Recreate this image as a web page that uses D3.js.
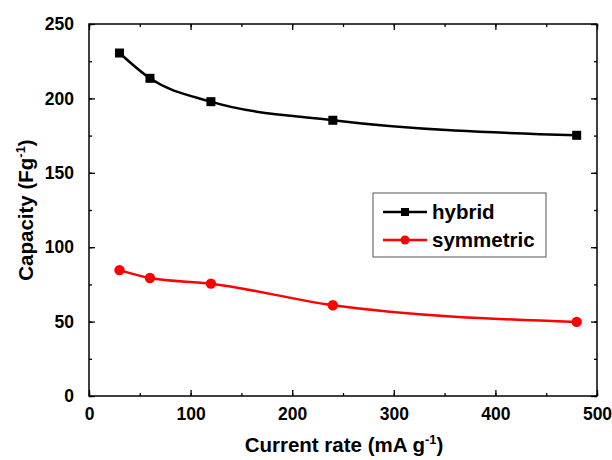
<!DOCTYPE html>
<html>
<head>
<meta charset="utf-8">
<script src="https://cdn.jsdelivr.net/npm/d3@7"></script>
<style>
body { margin: 0; background: #fff; }
text { font-family: "Liberation Sans", Arial, sans-serif; font-weight: bold; }
</style>
</head>
<body>
<div id="figure-div"></div>
<script>
var rates = [30, 60, 120, 240, 480];
var hybrid = [230.5, 213.5, 197.8, 185.3, 175.2];
var symmetric = [84.6, 79.3, 75.5, 61.0, 49.8];
var xTicks = [0, 100, 200, 300, 400, 500];
var yTicks = [0, 50, 100, 150, 200, 250];

var w = 612;
var h = 460;
var pLeft = 89, pRight = 597, pTop = 24, pBottom = 396;

var svg = d3.select("#figure-div").append("svg")
	.attr("width", w)
	.attr("height", h);

var xScale = d3.scaleLinear().domain([0, 500]).range([pLeft, pRight]);
var yScale = d3.scaleLinear().domain([0, 250]).range([pBottom, pTop]);

// minor + major ticks, all pointing inward
function addAxis(axis, tr) {
	var g = svg.append("g").attr("transform", tr).call(axis);
	g.select(".domain").remove();
	g.selectAll("line").attr("stroke", "#000").attr("stroke-width", 1.3);
	g.selectAll("text").style("font-size", "17.5px").attr("fill", "#000");
	return g;
}
var xMinor = d3.range(0, 501, 50), yMinor = d3.range(0, 251, 25);

addAxis(d3.axisBottom(xScale).tickValues(xMinor).tickSize(-3).tickFormat(""), "translate(0," + pBottom + ")");
addAxis(d3.axisBottom(xScale).tickValues(xTicks).tickSize(-6).tickPadding(12).tickFormat(d3.format("d")), "translate(0," + pBottom + ")");
addAxis(d3.axisTop(xScale).tickValues(xMinor).tickSize(-3).tickFormat(""), "translate(0," + pTop + ")");
addAxis(d3.axisTop(xScale).tickValues(xTicks).tickSize(-6).tickFormat(""), "translate(0," + pTop + ")");
addAxis(d3.axisLeft(yScale).tickValues(yMinor).tickSize(-3).tickFormat(""), "translate(" + pLeft + ",0)");
addAxis(d3.axisLeft(yScale).tickValues(yTicks).tickSize(-6).tickPadding(15).tickFormat(d3.format("d")), "translate(" + pLeft + ",0)");
addAxis(d3.axisRight(yScale).tickValues(yMinor).tickSize(-3).tickFormat(""), "translate(" + pRight + ",0)");
addAxis(d3.axisRight(yScale).tickValues(yTicks).tickSize(-6).tickFormat(""), "translate(" + pRight + ",0)");

svg.append("rect")
	.attr("x", pLeft).attr("y", pTop)
	.attr("width", pRight - pLeft).attr("height", pBottom - pTop)
	.attr("fill", "none").attr("stroke", "#000").attr("stroke-width", 1.5);

var line = d3.line()
	.x(function(d) { return xScale(d[0]); })
	.y(function(d) { return yScale(d[1]); })
	.curve(d3.curveMonotoneX);

var hybData = rates.map(function(r, i) { return [r, hybrid[i]]; });
var symData = rates.map(function(r, i) { return [r, symmetric[i]]; });

svg.append("path").datum(hybData).attr("d", line)
	.attr("fill", "none").attr("stroke", "#000").attr("stroke-width", 2.5);
svg.append("path").datum(symData).attr("d", line)
	.attr("fill", "none").attr("stroke", "#ff0000").attr("stroke-width", 2.5);

svg.selectAll("rect.hyb").data(hybData).enter().append("rect")
	.attr("class", "hyb")
	.attr("x", function(d) { return xScale(d[0]) - 4.5; })
	.attr("y", function(d) { return yScale(d[1]) - 4.5; })
	.attr("width", 9).attr("height", 9)
	.attr("fill", "#000");

svg.selectAll("circle.sym").data(symData).enter().append("circle")
	.attr("class", "sym")
	.attr("cx", function(d) { return xScale(d[0]); })
	.attr("cy", function(d) { return yScale(d[1]); })
	.attr("r", 5.2)
	.attr("fill", "#ff0000");

// legend
var lg = svg.append("g");
lg.append("rect")
	.attr("x", 373).attr("y", 193).attr("width", 173).attr("height", 64)
	.attr("fill", "#fff").attr("stroke", "#555").attr("stroke-width", 1);
lg.append("line").attr("x1", 383).attr("x2", 427).attr("y1", 212).attr("y2", 212)
	.attr("stroke", "#000").attr("stroke-width", 2.5);
lg.append("rect").attr("x", 401).attr("y", 208).attr("width", 8).attr("height", 8).attr("fill", "#000");
lg.append("text").attr("x", 432).attr("y", 219).style("font-size", "20.5px").text("hybrid");
lg.append("line").attr("x1", 383).attr("x2", 427).attr("y1", 240).attr("y2", 240)
	.attr("stroke", "#ff0000").attr("stroke-width", 2.5);
lg.append("circle").attr("cx", 405).attr("cy", 240).attr("r", 4.5).attr("fill", "#ff0000");
lg.append("text").attr("x", 432).attr("y", 247).style("font-size", "20.5px").text("symmetric");

// axis titles
var xt = svg.append("text")
	.attr("x", (pLeft + pRight) / 2 + 1).attr("y", 452)
	.attr("text-anchor", "middle")
	.style("font-size", "20.5px");
xt.append("tspan").text("Current rate (mA g");
xt.append("tspan").attr("dy", -8).style("font-size", "13px").text("-1");
xt.append("tspan").attr("dy", 8).text(")");

var yt = svg.append("text")
	.attr("transform", "translate(33," + ((pTop + pBottom) / 2) + ") rotate(-90)")
	.attr("text-anchor", "middle")
	.style("font-size", "20.5px");
yt.append("tspan").text("Capacity (Fg");
yt.append("tspan").attr("dy", -8).style("font-size", "13px").text("-1");
yt.append("tspan").attr("dy", 8).text(")");
</script>
</body>
</html>
